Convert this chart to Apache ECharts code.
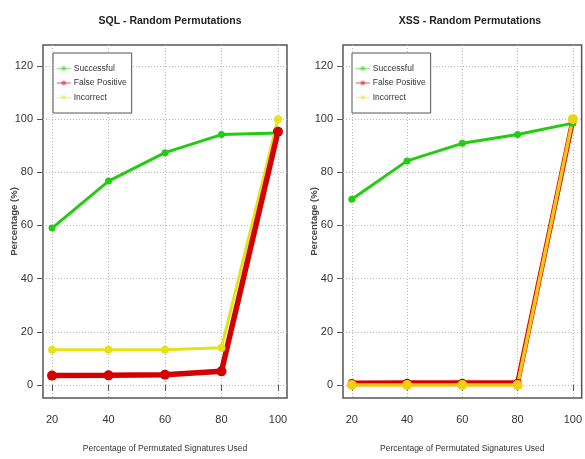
<!DOCTYPE html>
<html>
<head>
<meta charset="utf-8">
<script src="https://cdn.jsdelivr.net/npm/echarts@6/dist/echarts.min.js"></script>
<style>
html,body{margin:0;padding:0;background:#fff;}
#chart{width:585px;height:459px;}
</style>
</head>
<body>
<div id="chart"></div>
<script>
// ---- data ----
const xValues = [20, 40, 60, 80, 100];
const xTicks = [20, 40, 60, 80, 100];
const yTicks = [0, 20, 40, 60, 80, 100, 120];
const seriesNames = ['Successful', 'False Positive', 'Incorrect'];
const panelTitles = ['SQL - Random Permutations', 'XSS - Random Permutations'];

const sqlSuccessful = [59.0, 76.7, 87.4, 94.2, 94.8];
const sqlFalsePositive = [3.5, 3.6, 3.8, 5.1, 95.3];
const sqlIncorrect = [13.2, 13.2, 13.2, 14.0, 100];

const xssSuccessful = [69.9, 84.3, 90.9, 94.2, 98.5];
const xssFalsePositive = [0.7, 0.8, 0.8, 0.8, 99.6];
const xssIncorrect = [0, 0, 0, 0, 100];

const FONT = '"Liberation Sans Narrow", "Arial Narrow", "Liberation Sans", sans-serif';
const GREEN = '#22cc11';
const RED = '#d40000';
const YELLOW = '#e6e21a';

function pairs(vals) { return xValues.map((x, i) => [x, vals[i]]); }

const grids = [
  {left: 43, top: 45, width: 244, height: 353},
  {left: 343, top: 45, width: 243, height: 353}
];

function xAxis(i) {
  return {
    type: 'value', gridIndex: i, min: 16.8, max: 103.2,
    name: 'Percentage of Permutated Signatures Used',
    nameLocation: 'middle', nameGap: 46,
    nameTextStyle: {fontFamily: FONT, fontSize: 8.5, color: '#333'},
    axisLine: {show: false},
    axisTick: {show: true, length: 6, inside: false, customValues: xTicks, lineStyle: {color: '#555'}},
    axisLabel: {customValues: xTicks, fontFamily: FONT, fontSize: 11, color: '#333', margin: 16},
    splitLine: {show: true, lineStyle: {color: '#bbb', type: [1, 2], width: 1}}
  };
}
function yAxis(i) {
  return {
    type: 'value', gridIndex: i, min: -4.92, max: 127.9,
    name: 'Percentage (%)',
    nameLocation: 'middle', nameGap: 24, nameMoveOverlap: false,
    nameTextStyle: {fontFamily: FONT, fontSize: 9.5, fontWeight: 'bold', color: '#444'},
    axisLine: {show: false},
    axisTick: {show: true, length: 6, customValues: yTicks, lineStyle: {color: '#555'}},
    axisLabel: {customValues: yTicks, fontFamily: FONT, fontSize: 11, color: '#333', margin: 10},
    splitLine: {show: true, lineStyle: {color: '#bbb', type: [1, 2], width: 1}}
  };
}

function mkSeries(i, name, vals, color, lw, sym, extra) {
  return Object.assign({
    type: 'line', name: name, xAxisIndex: i, yAxisIndex: i,
    data: pairs(vals), symbol: 'circle', symbolSize: sym, showSymbol: true,
    lineStyle: {color: color, width: lw},
    itemStyle: {color: color},
    emphasis: {disabled: true},
    animation: false, z: 3
  }, extra || {});
}

const series = [
  mkSeries(0, seriesNames[0], sqlSuccessful, GREEN, 3, 7),
  mkSeries(0, seriesNames[2], sqlIncorrect, YELLOW, 3, 8),
  mkSeries(0, seriesNames[1], sqlFalsePositive, RED, 5.5, 10),
  mkSeries(1, seriesNames[0], xssSuccessful, GREEN, 3, 7),
  mkSeries(1, seriesNames[1], xssFalsePositive, RED, 5, 8),
  mkSeries(1, seriesNames[2], xssIncorrect, YELLOW, 3.5, 10, {
    lineStyle: {color: '#f0c418', width: 3.5, opacity: 1},
    itemStyle: {color: '#f0d010'}
  })
];

function legend(left) {
  return {
    orient: 'vertical', left: left, top: 53,
    data: seriesNames,
    backgroundColor: '#fff', borderColor: '#555', borderWidth: 1,
    padding: [11, 5, 11, 3], itemGap: 5.5, itemWidth: 14, itemHeight: 6,
    textStyle: {fontFamily: FONT, fontSize: 8.5, color: '#333', padding: [0, 0, 0, -2]},
    itemStyle: {opacity: 0.45},
    lineStyle: {opacity: 0.45, width: 1.5},
    selectedMode: false
  };
}

const chart = echarts.init(document.getElementById('chart'), null, {renderer: 'canvas'});
chart.setOption({
  backgroundColor: '#fff',
  animation: false,
  title: [
    {text: panelTitles[0], left: 165, top: 11, textAlign: 'center',
     textStyle: {fontFamily: FONT, fontSize: 10.5, fontWeight: 'bold', color: '#222'}},
    {text: panelTitles[1], left: 465, top: 11, textAlign: 'center',
     textStyle: {fontFamily: FONT, fontSize: 10.5, fontWeight: 'bold', color: '#222'}}
  ],
  grid: grids.map(g => Object.assign({show: true, borderColor: '#555', borderWidth: 1.5, backgroundColor: 'transparent'}, g)),
  xAxis: [xAxis(0), xAxis(1)],
  yAxis: [yAxis(0), yAxis(1)],
  legend: [legend(53), legend(352)],
  series: series
});
</script>
</body>
</html>
